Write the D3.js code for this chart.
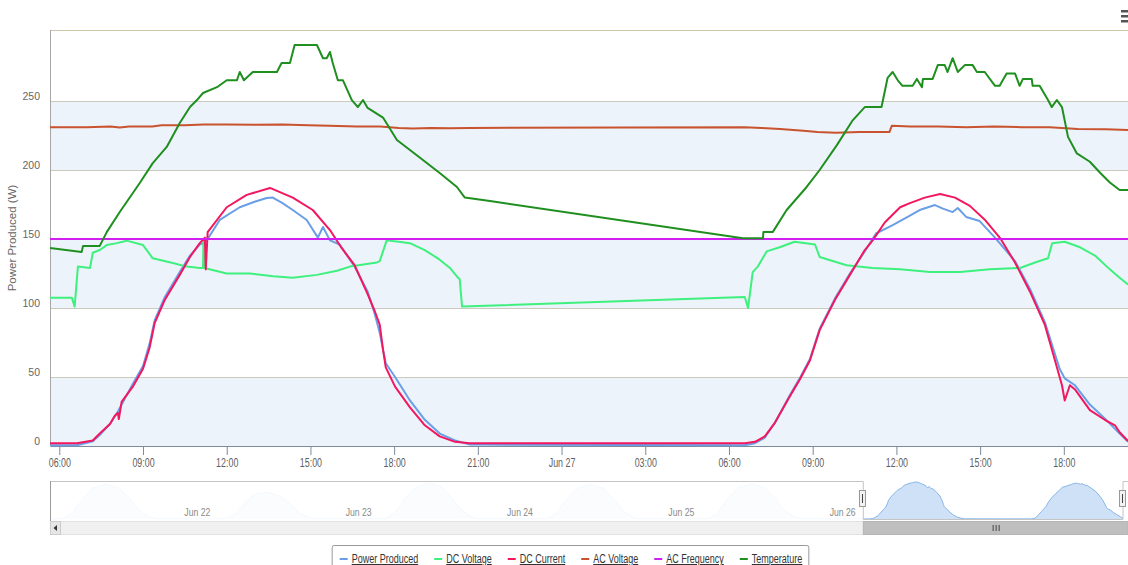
<!DOCTYPE html>
<html>
<head>
<meta charset="utf-8">
<script src="https://cdn.jsdelivr.net/npm/d3@7"></script>
<style>
  body { margin: 0; background: #fff; }
  svg { display: block; }
  .ylab { font-family: "Liberation Sans", Arial, sans-serif; font-size: 10.5px; fill: #666; }
  .narrow { font-family: "Liberation Sans", Arial, sans-serif; }
</style>
</head>
<body>
<div id="chart"></div>
<script>
// ---- data (times are MM-DD HH:MM) ----
var powerTimes = ["06-26 05:40","06-26 06:38","06-26 07:12","06-26 07:27","06-26 07:49","06-26 08:06","06-26 08:38","06-26 09:00","06-26 09:14","06-26 09:25","06-26 09:47","06-26 10:19","06-26 10:41","06-26 11:02","06-26 11:09","06-26 11:17","06-26 11:45","06-26 12:28","06-26 13:00","06-26 13:26","06-26 13:39","06-26 14:00","06-26 14:22","06-26 14:52","06-26 15:16","06-26 15:27","06-26 15:42","06-26 16:03","06-26 16:35","06-26 17:03","06-26 17:18","06-26 17:29","06-26 17:36","06-26 17:42","06-26 18:02","06-26 18:34","06-26 19:06","06-26 19:38","06-26 20:11","06-26 20:43",
  "06-27 06:34","06-27 06:56","06-27 07:17","06-27 07:39","06-27 08:11","06-27 08:32","06-27 08:54","06-27 09:15","06-27 09:48","06-27 10:20","06-27 10:52","06-27 11:16","06-27 11:52","06-27 12:29","06-27 12:50","06-27 13:23","06-27 13:40","06-27 14:01","06-27 14:12","06-27 14:30","06-27 14:59","06-27 15:32","06-27 16:15","06-27 16:47","06-27 17:19","06-27 17:51","06-27 18:02","06-27 18:24","06-27 18:56","06-27 19:28","06-27 20:00","06-27 20:18"];
var powerValues = [0.5,0.5,3.5,8,16,25,45,58,74,91,108,126,138,146,147,149,163.8,173,177,179.7,180,176,171,163.8,151,158.7,149,146,130,112,96,82,70,60,50,33,19,9,4,1,
  0.5,2,6,17,37,49,63,85,107,125,141,154,160,167,171,174.6,172,169.5,172.5,166,163,151,134,114,90,56,49,44,30,20,9,3];

var dcVoltTimes = ["06-26 05:40","06-26 06:27","06-26 06:33","06-26 06:40","06-26 07:06","06-26 07:12","06-26 07:27","06-26 07:42","06-26 08:04","06-26 08:25","06-26 09:00","06-26 09:21","06-26 10:04","06-26 10:34","06-26 11:02","06-26 11:09","06-26 11:10","06-26 11:12","06-26 12:00","06-26 12:50","06-26 13:40","06-26 14:22","06-26 15:14","06-26 15:57","06-26 16:25","06-26 17:23","06-26 17:29","06-26 17:44","06-26 18:10","06-26 18:34","06-26 19:06","06-26 19:38","06-26 20:00","06-26 20:17","06-26 20:21","06-26 20:26",
  "06-27 06:34","06-27 06:41","06-27 06:51","06-27 07:02","06-27 07:21","06-27 07:49","06-27 08:21","06-27 09:05","06-27 09:15","06-27 10:13","06-27 11:09","06-27 12:08","06-27 13:12","06-27 14:17","06-27 15:21","06-27 16:26","06-27 16:58","06-27 17:26","06-27 17:35","06-27 18:02","06-27 18:35","06-27 19:07","06-27 19:39","06-27 20:00","06-27 20:18"];
var dcVoltValues = [107.5,107.5,101,130,129,140,142,145.6,147,148.8,145.6,136,132.6,130,129,129,150,129,125,125,123,122,124,127,130,133,134,149,148,147,142,135,129,122,121,101,
  108,100,126,130,141,144,148,146,137,131,129,128,126,126,128,129,133,136,147,148,144,138,128,122,117];

var dcCurrTimes = ["06-26 05:40","06-26 06:38","06-26 07:12","06-26 07:27","06-26 07:49","06-26 07:59","06-26 08:06","06-26 08:08","06-26 08:14","06-26 08:38","06-26 09:00","06-26 09:14","06-26 09:25","06-26 09:47","06-26 10:19","06-26 10:41","06-26 11:02","06-26 11:13","06-26 11:15","06-26 11:19","06-26 12:00","06-26 12:43","06-26 13:33","06-26 14:22","06-26 15:05","06-26 15:42","06-26 16:07","06-26 16:35","06-26 17:03","06-26 17:18","06-26 17:29","06-26 17:36","06-26 17:42","06-26 18:02","06-26 18:34","06-26 19:06","06-26 19:38","06-26 20:11","06-26 20:43",
  "06-27 06:34","06-27 06:56","06-27 07:17","06-27 07:39","06-27 08:11","06-27 08:32","06-27 08:54","06-27 09:15","06-27 09:48","06-27 10:20","06-27 10:52","06-27 11:09","06-27 11:35","06-27 12:08","06-27 12:29","06-27 13:01","06-27 13:34","06-27 14:06","06-27 14:38","06-27 15:10","06-27 15:43","06-27 16:15","06-27 16:47","06-27 17:19","06-27 17:41","06-27 17:56","06-27 18:02","06-27 18:13","06-27 18:24","06-27 18:56","06-27 19:28","06-27 19:50","06-27 20:00","06-27 20:18"];
var dcCurrValues = [2,2,4,9,16,21.7,24,19.5,32,43,56,71,89,106,124,137,147,151,128,155,173,182,187,180,171,156.5,143.5,131,110,98,88,70,57,43,28,15,7,3,2,
  2,3,7,17,36,48,62,84,106,124,142,149,162,173,176,180,182.6,180,174,164,150.7,133,112,88,62,44,33,44,41,26,19,15,10,3.6];

var acVoltTimes = ["06-26 05:40","06-26 07:00","06-26 07:50","06-26 08:10","06-26 08:30","06-26 09:20","06-26 09:40","06-26 10:30","06-26 11:10","06-26 12:00","06-26 13:00","06-26 14:00","06-26 14:55","06-26 15:40","06-26 16:40","06-26 17:30","06-26 18:10","06-26 18:40","06-26 19:20","06-26 20:00","06-26 20:43",
  "06-27 06:34","06-27 07:10","06-27 07:50","06-27 08:40","06-27 09:10","06-27 09:50","06-27 10:40","06-27 11:45","06-27 11:50","06-27 12:30","06-27 13:30","06-27 14:30","06-27 15:30","06-27 16:30","06-27 17:30","06-27 18:30","06-27 19:30","06-27 20:18"];
var acVoltValues = [231,231,231.5,230.8,231.5,231.5,232.5,232.5,233,233,232.8,233,232.5,232,231.5,231.5,230.5,230,230.5,230.2,230.5,
  231,230.5,229.7,228.5,227.5,227,227.5,227.5,232,231.5,231.5,231,231.5,231,231,229.7,229.5,229];

var acFreqTimes = ["06-26 05:40","06-26 20:43","06-27 06:34","06-27 20:18"];
var acFreqValues = [150,150,150,150];

var tempTimes = ["06-26 05:40","06-26 06:48","06-26 06:51","06-26 07:27","06-26 07:42","06-26 08:10","06-26 08:53","06-26 09:21","06-26 09:51","06-26 10:19","06-26 10:41","06-26 10:56","06-26 11:09","06-26 11:39","06-26 12:00","06-26 12:22","06-26 12:28","06-26 12:37","06-26 12:56","06-26 13:48","06-26 13:58","06-26 14:16","06-26 14:26","06-26 15:14","06-26 15:27","06-26 15:35","06-26 15:42","06-26 15:48","06-26 15:59","06-26 16:10","06-26 16:29","06-26 16:42","06-26 16:53","06-26 17:03","06-26 17:36","06-26 18:06","06-26 18:55","06-26 19:38","06-26 20:15","06-26 20:32","06-26 21:26",
  "06-27 06:30","06-27 07:13","06-27 07:14","06-27 07:34","06-27 08:04","06-27 08:47","06-27 09:15","06-27 09:52","06-27 10:26","06-27 10:52","06-27 11:28","06-27 11:41","06-27 11:52","06-27 12:03","06-27 12:13","06-27 12:35","06-27 12:44","06-27 12:55","06-27 12:57","06-27 13:18","06-27 13:29","06-27 13:44","06-27 13:50","06-27 14:01","06-27 14:12","06-27 14:27","06-27 14:44","06-27 14:53","06-27 15:10","06-27 15:32","06-27 15:42","06-27 15:57","06-27 16:15","06-27 16:25","06-27 16:32","06-27 16:51","06-27 16:53","06-27 17:08","06-27 17:26","06-27 17:34","06-27 17:45","06-27 17:56","06-27 18:09","06-27 18:28","06-27 18:56","06-27 19:18","06-27 19:39","06-27 20:00","06-27 20:18"];
var tempValues = [143.5,140.5,145,145,155,169.6,190.6,205,216.7,234,245.6,250.7,255.8,260,265,265,271,265,271,271,277.5,277.5,290.6,290.6,281,281,285.5,277.5,265,265,250.7,245.6,250.7,245,238,221.7,209,197.8,187.7,180,177.5,
  150.5,150.5,155,155,171,187.7,200,218,236,245.6,245.6,266.7,271,265,261,261,266,260,266,266,276,276,271,281,271,276,276,271,271,261,261,270,270,261,266,266,261,261,250.7,245.6,250.7,245.6,224,212,206,198,191,185.5,185.5];

// earlier days, only visible (faded) in the navigator
var navTimes = ["06-21 04:50","06-21 06:40","06-21 08:00","06-21 09:30","06-21 11:00","06-21 13:00","06-21 15:00","06-21 16:30","06-21 18:00","06-21 19:30","06-21 20:40",
  "06-22 06:40","06-22 08:00","06-22 09:30","06-22 11:00","06-22 13:00","06-22 15:00","06-22 16:30","06-22 18:00","06-22 19:30","06-22 20:40",
  "06-23 06:40","06-23 08:00","06-23 09:30","06-23 11:00","06-23 13:00","06-23 15:00","06-23 16:30","06-23 18:00","06-23 19:30","06-23 20:40",
  "06-24 06:40","06-24 08:00","06-24 09:30","06-24 11:00","06-24 13:00","06-24 15:00","06-24 16:30","06-24 18:00","06-24 19:30","06-24 20:40",
  "06-25 06:40","06-25 08:00","06-25 09:30","06-25 11:00","06-25 13:00","06-25 15:00","06-25 16:30","06-25 18:00","06-25 19:30","06-25 20:40"];
var navValues = [0,1,30,95,150,170,150,100,40,8,1,
  1,20,70,120,130,110,70,25,5,1,
  1,30,100,150,175,155,100,40,8,1,
  1,28,95,148,168,150,98,38,7,1,
  1,30,100,152,172,152,100,40,8,1];

var seriesNames = ["Power Produced","DC Voltage","DC Current","AC Voltage","AC Frequency","Temperature"];
var seriesColors = ["#6a9fe6","#3ef07e","#f2175f","#c8532e","#d01ff0","#1f8f1f"];
var yTicks = [0, 50, 100, 150, 200, 250];
var yBands = [[0, 50], [100, 150], [200, 250]];

// ---- drawing ----
var parse = d3.timeParse("%m-%d %H:%M");
function pairs(times, values) {
  return times.map(function(t, i) { return {t: parse(t), v: values[i]}; });
}

// squeeze a text node, the original uses a narrow typeface
function narrow(sel, ratio) {
  sel.each(function() {
    var w = this.getComputedTextLength();
    d3.select(this)
      .attr("textLength", w * ratio)
      .attr("lengthAdjust", "spacingAndGlyphs");
  });
}

var W = 1128, H = 565;
var plotLeft = 50, plotRight = 1128, plotTop = 30, plotBottom = 446;
var navTop = 481, navBottom = 519;

var series = [
  pairs(powerTimes, powerValues),
  pairs(dcVoltTimes, dcVoltValues),
  pairs(dcCurrTimes, dcCurrValues),
  pairs(acVoltTimes, acVoltValues),
  pairs(acFreqTimes, acFreqValues),
  pairs(tempTimes, tempValues)
];

var start = parse("06-26 05:40"), end = parse("06-27 20:18");

var x = d3.scaleTime().domain([start, end]).range([plotLeft, plotRight]);
var y = d3.scaleLinear().domain([0, 300]).range([plotBottom, 32]);

var svg = d3.select("#chart").append("svg")
  .attr("width", W)
  .attr("height", H);

svg.append("defs").append("clipPath").attr("id", "plotclip")
  .append("rect").attr("x", plotLeft).attr("y", plotTop)
  .attr("width", plotRight - plotLeft).attr("height", plotBottom - plotTop + 2);

// alternate bands
svg.selectAll(".band")
  .data(yBands)
  .enter().append("rect")
  .attr("x", plotLeft)
  .attr("width", plotRight - plotLeft)
  .attr("y", function(d) { return y(d[1]); })
  .attr("height", function(d) { return y(d[0]) - y(d[1]); })
  .attr("fill", "#edf3fa");

// grid lines
svg.selectAll(".grid")
  .data(yTicks.filter(function(d) { return d > 0; }))
  .enter().append("line")
  .attr("x1", plotLeft).attr("x2", plotRight)
  .attr("y1", function(d) { return y(d) + 0.5; })
  .attr("y2", function(d) { return y(d) + 0.5; })
  .attr("stroke", "#cacabc");

// top border
svg.append("line")
  .attr("x1", plotLeft).attr("x2", plotRight)
  .attr("y1", plotTop + 0.5).attr("y2", plotTop + 0.5)
  .attr("stroke", "#c9c7a8");

// left border
svg.append("line")
  .attr("x1", plotLeft + 0.5).attr("x2", plotLeft + 0.5)
  .attr("y1", plotTop).attr("y2", plotBottom)
  .attr("stroke", "#a6a6a6");

// y axis labels
var yAxis = svg.append("g")
  .attr("transform", "translate(" + (plotLeft - 10) + ",0)")
  .call(d3.axisLeft(y).tickValues(yTicks).tickSize(0).tickPadding(0));
yAxis.select(".domain").remove();
yAxis.selectAll("text")
  .attr("class", "ylab")
  .attr("y", -5)
  .attr("font-family", null)
  .attr("font-size", null);

svg.append("text")
  .attr("class", "ylab")
  .attr("transform", "translate(16,238) rotate(-90)")
  .attr("text-anchor", "middle")
  .style("font-size", "11.5px")
  .text("Power Produced (W)");

// x axis
var fmtHour = d3.timeFormat("%H:%M"), fmtDay = d3.timeFormat("%b %d");
var xAxis = svg.append("g")
  .attr("transform", "translate(0," + plotBottom + ")")
  .call(d3.axisBottom(x)
    .ticks(d3.timeHour.every(3))
    .tickSize(9)
    .tickSizeOuter(0)
    .tickFormat(function(d) { return d.getHours() === 0 ? fmtDay(d) : fmtHour(d); }));
xAxis.select(".domain").attr("stroke", "#7d8b9c");
xAxis.selectAll(".tick line").attr("stroke", "#7d8b9c");
xAxis.selectAll("text")
  .attr("class", "narrow")
  .attr("font-size", null)
  .attr("font-family", null)
  .style("font-size", "12.5px")
  .attr("fill", "#5f5f5f")
  .call(narrow, 0.71);

// lines
var line = d3.line()
  .x(function(d) { return x(d.t); })
  .y(function(d) { return y(d.v); });

svg.append("g").attr("clip-path", "url(#plotclip)")
  .selectAll("path")
  .data(series)
  .enter().append("path")
  .attr("d", line)
  .attr("fill", "none")
  .attr("stroke", function(d, i) { return seriesColors[i]; })
  .attr("stroke-width", 2)
  .attr("stroke-linejoin", "round");

// ---- navigator ----
var navData = pairs(navTimes, navValues).concat(series[0]);
var xNav = d3.scaleTime().domain([parse("06-21 04:50"), end]).range([51, 1123]);
var yNav = d3.scaleLinear().domain([0, 185]).range([navBottom, navTop]);

svg.append("path")
  .datum(navData)
  .attr("d", d3.area().x(function(d) { return xNav(d.t); }).y0(navBottom).y1(function(d) { return yNav(d.v); }))
  .attr("fill", "#cfe1f6");
svg.append("path")
  .datum(navData)
  .attr("d", d3.line().x(function(d) { return xNav(d.t); }).y(function(d) { return yNav(d.v); }))
  .attr("fill", "none")
  .attr("stroke", "#88b6ea")
  .attr("stroke-width", 1);

var selL = xNav(start), selR = xNav(end);

// faded part outside the selection
svg.append("rect")
  .attr("x", plotLeft).attr("y", navTop)
  .attr("width", selL - plotLeft).attr("height", navBottom - navTop + 1)
  .attr("fill", "#fff").attr("opacity", 0.9);

// outline
svg.append("path")
  .attr("d", "M" + plotLeft + "," + (navTop + 0.5) + "H" + selL + "V" + (navBottom + 0.5) + "H" + selR + "V" + (navTop + 0.5) + "H" + plotRight)
  .attr("fill", "none")
  .attr("stroke", "#c4c4c4");

svg.append("line")
  .attr("x1", plotLeft + 0.5).attr("x2", plotLeft + 0.5)
  .attr("y1", navTop).attr("y2", 535)
  .attr("stroke", "#9a9a9a");

// navigator date labels
var navAxis = svg.append("g")
  .attr("transform", "translate(0,505)")
  .call(d3.axisBottom(xNav)
    .tickValues(d3.timeDay.range(parse("06-22 00:00"), parse("06-27 00:00")))
    .tickSize(0)
    .tickFormat(d3.timeFormat("%b %d")));
navAxis.select(".domain").remove();
navAxis.selectAll("text")
  .attr("class", "narrow")
  .attr("font-size", null)
  .attr("font-family", null)
  .style("font-size", "11.5px")
  .attr("text-anchor", "start")
  .attr("dx", 4)
  .attr("fill", "#8a8a8a")
  .call(narrow, 0.75);

// scrollbar
svg.append("rect")
  .attr("x", plotLeft + 0.5).attr("y", 521.5)
  .attr("width", plotRight - plotLeft).attr("height", 13)
  .attr("fill", "#f0f0f0").attr("stroke", "#e2e2e2");
svg.append("rect")
  .attr("x", selL).attr("y", 521.5)
  .attr("width", plotRight - selL).attr("height", 13)
  .attr("fill", "#bfbfbf").attr("stroke", "#b5b5b5");
var grip = (selL + plotRight) / 2;
[-3, 0, 3].forEach(function(o) {
  svg.append("line")
    .attr("x1", grip + o + 0.5).attr("x2", grip + o + 0.5)
    .attr("y1", 525).attr("y2", 531)
    .attr("stroke", "#444");
});
svg.append("rect")
  .attr("x", plotLeft + 0.5).attr("y", 521.5)
  .attr("width", 10).attr("height", 13)
  .attr("fill", "#e6e6e6").attr("stroke", "#cccccc");
svg.append("path")
  .attr("d", "M57,525 L53.5,528 L57,531 Z")
  .attr("fill", "#333");

// handles
[selL, selR].forEach(function(hx) {
  svg.append("rect")
    .attr("x", Math.round(hx) - 3.5).attr("y", 490.5)
    .attr("width", 6).attr("height", 16)
    .attr("fill", "#f2f2f2").attr("stroke", "#999");
  svg.append("line")
    .attr("x1", Math.round(hx) - 0.5).attr("x2", Math.round(hx) - 0.5)
    .attr("y1", 494).attr("y2", 503)
    .attr("stroke", "#444");
});

// ---- legend ----
var legend = svg.append("g");
var lx = 341;
seriesNames.forEach(function(name, i) {
  var g = legend.append("g");
  g.append("line")
    .attr("x1", lx).attr("x2", lx + 8)
    .attr("y1", 559).attr("y2", 559)
    .attr("stroke", seriesColors[i])
    .attr("stroke-width", 2);
  var t = g.append("text")
    .attr("class", "narrow")
    .attr("x", lx + 12)
    .attr("y", 563)
    .style("font-size", "12px")
    .style("text-decoration", "underline")
    .attr("fill", "#333")
    .text(name);
  var w = t.node().getComputedTextLength() * 0.75;
  t.attr("textLength", w).attr("lengthAdjust", "spacingAndGlyphs");
  lx = lx + 12 + w + 16;
});
var boxW = lx - 16 + 6 - 333;
var shift = 570 - (333 + boxW / 2);
legend.attr("transform", "translate(" + shift + ",0)");
legend.insert("rect", ":first-child")
  .attr("x", 333.5).attr("y", 545.5)
  .attr("width", boxW).attr("height", 26)
  .attr("rx", 2)
  .attr("fill", "#fff")
  .attr("stroke", "#999");

// menu icon
[11, 16, 21].forEach(function(my) {
  svg.append("rect")
    .attr("x", 1121).attr("y", my - 1)
    .attr("width", 7).attr("height", 2.5)
    .attr("fill", "#555");
});
</script>
</body>
</html>
